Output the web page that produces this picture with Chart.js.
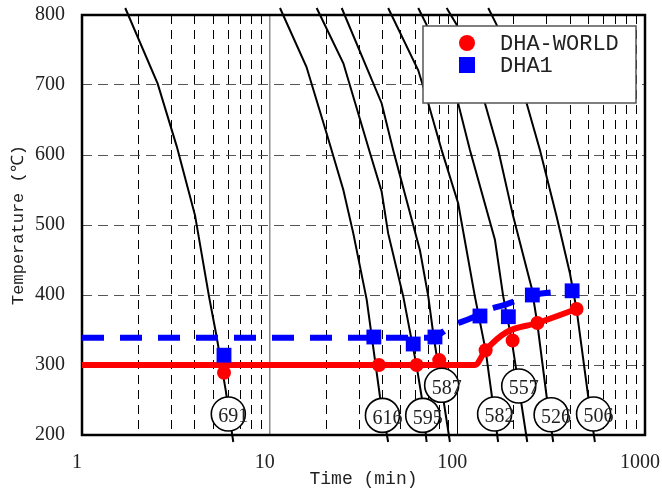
<!DOCTYPE html>
<html>
<head>
  <meta charset="utf-8">
  <script src="https://cdn.jsdelivr.net/npm/chart.js"></script>
  <style>
    html, body { margin: 0; padding: 0; background: #fff; }
  </style>
</head>
<body>
  <canvas id="cctChart" width="662" height="496"></canvas>

  <script>
    // Cooling curves, [time (min), temperature (C)]
    var cct691 = [[1.7, 810], [2.53, 702], [3.2, 612], [4.0, 514], [4.75, 398], [5.22, 340], [5.83, 264], [6.4, 190]];
    var cct616 = [[11.35, 810], [15.7, 726], [20.1, 631], [24.7, 550], [27.9, 488], [32.9, 393], [38.7, 255], [42.8, 190]];
    var cct595 = [[17.8, 810], [24.7, 731], [34.5, 600], [39.5, 548], [42.8, 488], [51.5, 398], [60.7, 298], [64.5, 255], [68.6, 190]];
    var cct587 = [[24.2, 810], [39.5, 674], [45.5, 607], [63.2, 464], [70, 398], [74.4, 345], [91.3, 190]];
    var cct582 = [[42.8, 810], [61.9, 721], [70, 674], [82.5, 607], [101, 531], [124, 398], [141.5, 321], [165, 190]];
    var cct557 = [[61.9, 810], [68.6, 786], [101, 674], [116.7, 607], [158.6, 479], [175.6, 398], [194.7, 336], [235.8, 190]];
    var cct526 = [[87.7, 810], [99.2, 786], [140.3, 674], [165.2, 607], [198.6, 512], [248.9, 410], [266.6, 360], [299.1, 255], [324.3, 190]];
    var cct506 = [[146.1, 810], [162, 786], [234, 674], [275.5, 607], [338.1, 512], [398, 431], [432.1, 379], [498.2, 255], [540.9, 190]];
    var curves = [cct691, cct616, cct595, cct587, cct582, cct557, cct526, cct506];

    // circled numbers at the bottom of each curve
    var labelText = ['691', '616', '595', '587', '582', '557', '526', '506'];
    var labelTime = [6.02, 39.9, 65.4, 82.5, 158, 212.4, 316, 532];
    var labelTemp = [230, 228, 228, 271, 230, 270, 229, 230];

    // DHA-WORLD measured points and trend line
    var worldTime = [5.71, 38.2, 60.7, 80.1, 141.5, 197, 267, 432];
    var worldTemp = [289, 300, 300, 307, 321, 335, 360, 380];
    var worldFitTime = [1, 124, 141.5, 183, 267, 432];
    var worldFitTemp = [300, 300, 321, 347, 360, 380];

    // DHA1 measured points and trend line
    var dha1Time = [5.71, 35.9, 58.2, 76, 132, 187, 251, 409];
    var dha1Temp = [314, 340, 330, 340, 370, 369, 400, 406];
    var dha1FitTime = [1, 72, 95, 119, 146, 179, 254, 410];
    var dha1FitTemp = [339, 339, 357, 367, 379, 386, 400, 406];

    var xTickLabels = ['1', '10', '100', '1000'];
    var yTickStep = 100;

    function toPoints(xs, ys) {
      return xs.map(function(x, i) { return { x: x, y: ys[i] }; });
    }

    // grid lines at 1..9 of each decade
    var xGridValues = [];
    [1, 10, 100].forEach(function(d) {
      for (var k = 1; k < 10; k++) xGridValues.push(k * d);
    });
    xGridValues.push(1000);

    var datasets = [];

    datasets.push({
      label: 'DHA-WORLD',
      data: toPoints(worldTime, worldTemp),
      showLine: false,
      pointStyle: 'circle',
      pointRadius: 7,
      pointBackgroundColor: '#ff0000',
      pointBorderWidth: 0,
      borderColor: '#ff0000',
      order: 0
    });
    datasets.push({
      label: 'DHA1',
      data: toPoints(dha1Time, dha1Temp),
      showLine: false,
      pointStyle: 'rect',
      pointRadius: 10.5,
      pointBackgroundColor: '#0000ff',
      pointBorderWidth: 0,
      borderColor: '#0000ff',
      order: 0
    });
    datasets.push({
      label: 'labels',
      data: toPoints(labelTime, labelTemp),
      showLine: false,
      pointStyle: 'circle',
      pointRadius: 17,
      pointBackgroundColor: '#ffffff',
      pointBorderColor: '#000000',
      pointBorderWidth: 1.6,
      order: 1
    });
    datasets.push({
      label: 'world-fit',
      data: toPoints(worldFitTime, worldFitTemp),
      borderColor: '#ff0000',
      borderWidth: 6,
      pointRadius: 0,
      cubicInterpolationMode: 'monotone',
      order: 2
    });
    datasets.push({
      label: 'dha1-fit',
      data: toPoints(dha1FitTime, dha1FitTemp),
      borderColor: '#0000ff',
      borderWidth: 6,
      borderDash: [22, 16],
      pointRadius: 0,
      cubicInterpolationMode: 'monotone',
      order: 2
    });
    curves.forEach(function(c) {
      datasets.push({
        label: 'cct',
        data: c.map(function(p) { return { x: p[0], y: p[1] }; }),
        borderColor: '#000000',
        borderWidth: 2,
        pointRadius: 0,
        tension: 0,
        clip: false,
        order: 3
      });
    });

    // thick frame around the plot
    var framePlugin = {
      id: 'frame',
      beforeDatasetsDraw: function(chart) {
        var a = chart.chartArea, ctx = chart.ctx;
        ctx.save();
        ctx.strokeStyle = '#000';
        ctx.lineWidth = 2.5;
        ctx.strokeRect(a.left, a.top, a.right - a.left, a.bottom - a.top);
        ctx.restore();
      }
    };

    // numbers inside the circles
    var circleText = {
      id: 'circleText',
      afterDatasetsDraw: function(chart) {
        var ctx = chart.ctx;
        var meta = chart.getDatasetMeta(2);
        ctx.save();
        ctx.font = '20px "Liberation Serif"';
        ctx.fillStyle = '#222';
        ctx.textAlign = 'center';
        ctx.textBaseline = 'middle';
        meta.data.forEach(function(pt, i) {
          ctx.fillText(labelText[i], pt.x + 5, pt.y + 3);
        });
        ctx.restore();
      }
    };

    // legend box inside the plot, top right
    var legendBox = {
      id: 'legendBox',
      afterDatasetsDraw: function(chart) {
        var a = chart.chartArea, ctx = chart.ctx;
        var left = a.right - 222, top = a.top + 11, w = 213, h = 77;
        ctx.save();
        ctx.fillStyle = '#fff';
        ctx.fillRect(left, top, w, h);
        ctx.strokeStyle = '#555';
        ctx.lineWidth = 1.5;
        ctx.strokeRect(left, top, w, h);

        ctx.font = '22px "Liberation Mono"';
        ctx.textBaseline = 'middle';

        var y1 = top + 17, y2 = top + 39;
        ctx.fillStyle = '#ff0000';
        ctx.beginPath();
        ctx.arc(left + 44, y1, 8, 0, Math.PI * 2);
        ctx.fill();
        ctx.fillStyle = '#0000ff';
        ctx.fillRect(left + 36, y2 - 8, 16, 16);

        ctx.fillStyle = '#222';
        ctx.fillText(chart.data.datasets[0].label, left + 77, y1 + 1);
        ctx.fillText(chart.data.datasets[1].label, left + 77, y2 + 1);
        ctx.restore();
      }
    };

    new Chart(document.getElementById('cctChart'), {
      type: 'line',
      data: { datasets: datasets },
      plugins: [framePlugin, circleText, legendBox],
      options: {
        responsive: false,
        animation: false,
        layout: { padding: { left: 8, top: 15, right: 17, bottom: 6 }, autoPadding: false },
        plugins: {
          legend: { display: false },
          tooltip: { enabled: false }
        },
        scales: {
          x: {
            type: 'logarithmic',
            min: 1,
            max: 1000,
            afterBuildTicks: function(scale) {
              scale.ticks = xGridValues.map(function(v) { return { value: v }; });
            },
            afterFit: function(scale) {
              scale.height = 55;
              scale.paddingLeft = 0;
              scale.paddingRight = 0;
            },
            ticks: {
              autoSkip: false,
              maxRotation: 0,
              padding: 16,
              labelOffset: -5,
              color: '#222',
              font: { family: 'Liberation Serif', size: 20 },
              callback: function(v) {
                return xTickLabels.indexOf(String(v)) >= 0 ? String(v) : '';
              }
            },
            grid: {
              drawTicks: false,
              color: function(c) { return c.tick && c.tick.value === 10 ? '#8c8c8c' : '#000'; },
              lineWidth: function(c) { return c.tick && c.tick.value === 10 ? 1.5 : 1; }
            },
            border: {
              display: false,
              dash: function(c) {
                var v = c.tick ? c.tick.value : 0;
                return (v === 10 || v === 100) ? [] : [9, 6];
              }
            },
            title: {
              display: true,
              text: 'Time (min)',
              color: '#222',
              font: { family: 'Liberation Mono', size: 18 },
              padding: 0
            }
          },
          y: {
            min: 200,
            max: 800,
            afterFit: function(scale) {
              scale.width = 74;
              scale.paddingTop = 0;
              scale.paddingBottom = 0;
            },
            ticks: {
              stepSize: yTickStep,
              padding: 17,
              color: '#222',
              font: { family: 'Liberation Serif', size: 20 }
            },
            grid: { drawTicks: false, color: '#555', lineWidth: 1 },
            border: { display: false, dash: [10, 6] },
            title: {
              display: true,
              text: 'Temperature (℃)',
              color: '#222',
              font: { family: 'Liberation Mono', size: 17 },
              padding: 0
            }
          }
        }
      }
    });
  </script>
</body>
</html>
